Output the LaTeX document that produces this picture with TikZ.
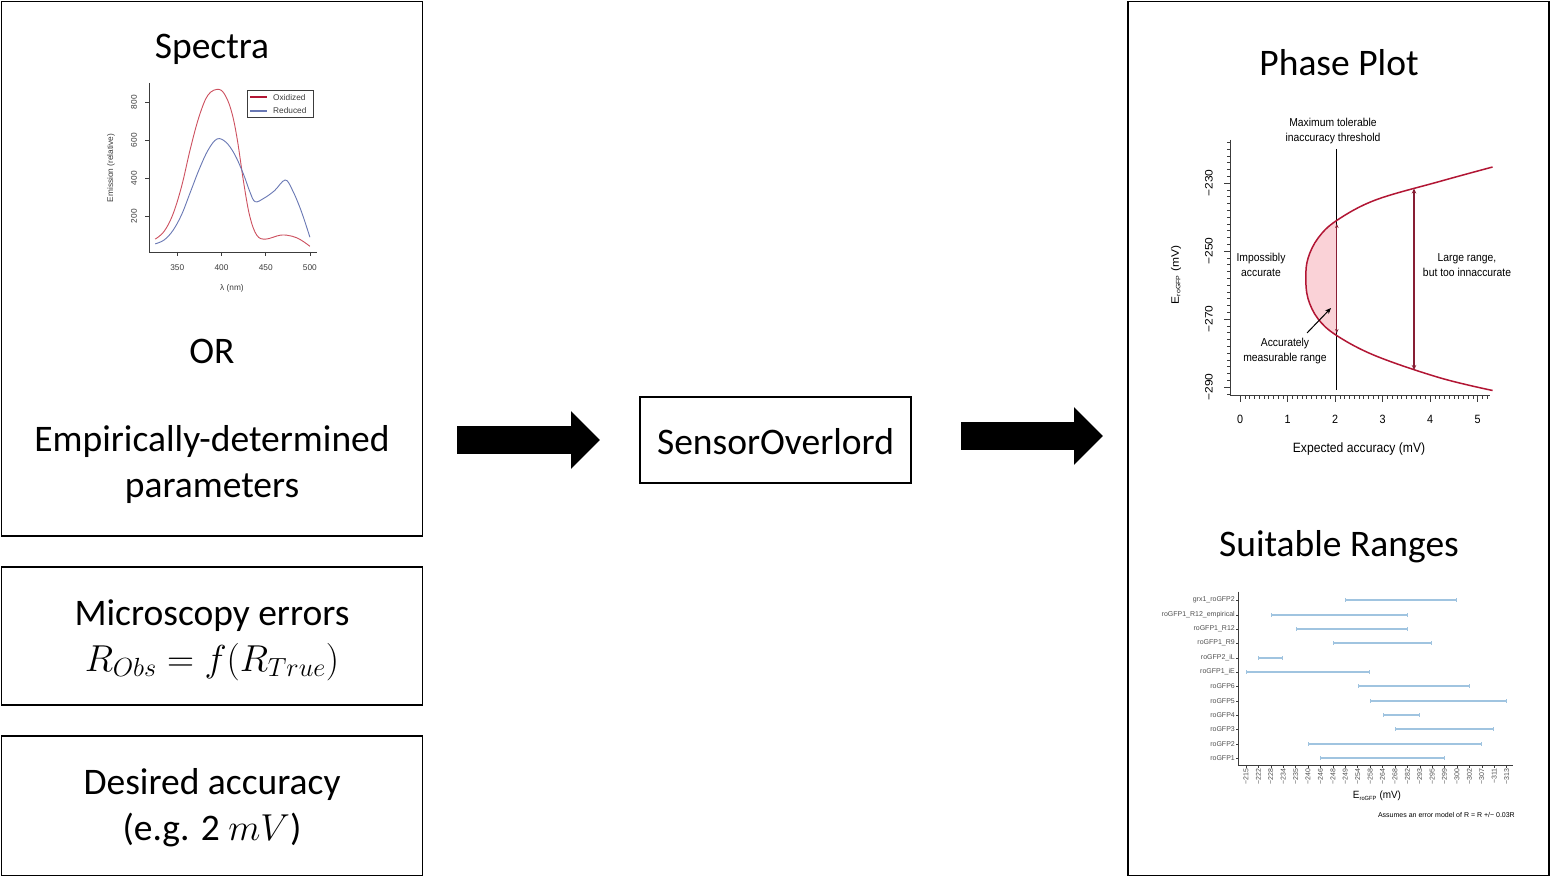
\RequirePackage{fix-cm}
\documentclass[tikz,border=0pt]{standalone}
\usepackage{fontspec}
\setmainfont{Carlito}
\newfontfamily\plotfont{Liberation Sans}
\usetikzlibrary{arrows.meta}
\definecolor{oxred}{RGB}{205,80,95}
\definecolor{redblue}{RGB}{105,120,180}
\definecolor{crim}{RGB}{178,22,52}
\definecolor{darr}{RGB}{135,30,52}
\definecolor{pinkfill}{RGB}{250,210,215}
\definecolor{barblue}{RGB}{160,196,224}
\definecolor{lblgray}{RGB}{80,80,80}
\definecolor{axgray}{RGB}{60,60,60}
\begin{document}
\begin{tikzpicture}[x=1pt,y=-1pt,
  frame/.style={draw, line width=1.8pt, inner sep=0pt},
  big/.style={font=\fontsize{37.5}{46}\selectfont, align=center, inner sep=0pt},
  blockarrow/.style={line width=28pt, -{Triangle[length=29pt,width=56pt]}},
  plm/.style={font=\plotfont\fontsize{12}{15}\selectfont, align=center, inner sep=0pt, xscale=0.9},
  ann/.style={font=\plotfont\fontsize{11.5}{15.5}\selectfont, align=center, inner sep=0pt, xscale=0.9},
  pls/.style={font=\plotfont\fontsize{8.3}{10}\selectfont, inner sep=0pt, text=axgray},
  plxs/.style={font=\plotfont\fontsize{7}{8}\selectfont, inner sep=0pt, text=lblgray},
  ax/.style={axgray, line width=0.6pt},
  bar/.style={barblue, line width=2pt, {Bar[width=3.5pt,line width=0.8pt]}-{Bar[width=3.5pt,line width=0.8pt]}},
]
\useasboundingbox (0,0) rectangle (1551,877);
\fill[white] (0,0) rectangle (1551,877);

% ---------- frames ----------
\node[frame, minimum width=421pt, minimum height=534.5pt] (inbox) at (212,268.75) {};
\node[frame, minimum width=421pt, minimum height=138pt] (errbox) at (212,636) {};
\node[frame, minimum width=421pt, minimum height=139.5pt] (accbox) at (212,805.75) {};
\node[frame, minimum width=271pt, minimum height=86pt] (so) at (775.5,440) {};
\node[frame, minimum width=421pt, minimum height=874pt] (outbox) at (1338.5,438.5) {};

% ---------- texts ----------
\node[big] (spectra) at (212,49) {Spectra};
\node[big] (or) at (212,351.5) {OR};
\node[big] (emp) at (212,464.5) {Empirically-determined\\parameters};
\node[big] (micro) at (212,640) {Microscopy errors\\$R_{Obs}=f(R_{True})$};
\node[big] (desired) at (212,808) {Desired accuracy\\(e.g. 2 $mV$)};
\node[big] (solabel) at ([yshift=-1.5pt]so.center) {SensorOverlord};
\node[big] (phase) at (1339,63) {Phase Plot};
\node[big] (suit) at (1339,547) {Suitable Ranges};

% ---------- block arrows ----------
\coordinate (a1s) at (457,440);
\coordinate (a1e) at (600,440);
\coordinate (a2s) at (961,436);
\coordinate (a2e) at (1103,436);
\draw[blockarrow] (a1s) -- (a1e);
\draw[blockarrow] (a2s) -- (a2e);

% ---------- spectra plot ----------
\draw[ax] (149,83) -- (149,252) -- (317,252);
\foreach \v/\py in {200/216.3,400/178.3,600/140.3,800/102.3}{
  \draw[ax] (149,\py) -- (145,\py);
  \node[pls, rotate=90] at (134,\py) {\v};
}
\foreach \l/\px in {350/177.3,400/221.5,450/265.7,500/309.9}{
  \draw[ax] (\px,252) -- (\px,256);
  \node[pls] at (\px,268) {\l};
}
\node[pls, rotate=90] at (111,168) {Emission (relative)};
\node[pls] at (232,288) {λ (nm)};
\begin{scope}[shift={(177.3,216.3)}, x=0.884pt, y=0.19pt]
  \draw[oxred, line width=0.9pt] plot[smooth, tension=0.6] coordinates {(-25,-120) (-15,-80) (-5,10) (5,160) (15,360) (25,530) (35,640) (47,668) (55,630) (62,540) (68,400) (75,180) (82,0) (90,-100) (100,-120) (117,-99) (130,-105) (140,-125) (150,-158)};
  \draw[redblue, line width=0.9pt] plot[smooth, tension=0.6] coordinates {(-25,-145) (-15,-125) (-5,-75) (5,10) (15,130) (25,250) (35,350) (45,407) (55,390) (65,325) (75,220) (82,130) (88,77) (98,95) (110,135) (122,191) (130,140) (140,30) (150,-110)};
\end{scope}
\draw[axgray, line width=0.5pt] (247,90) rectangle (313,117);
\draw[crim, line width=1.6pt] (250,97) -- (267,97);
\draw[redblue, line width=1.6pt] (250,111) -- (267,111);
\node[pls, anchor=west] at (273,97.5) {Oxidized};
\node[pls, anchor=west] at (273,111) {Reduced};

% ---------- phase plot ----------
\fill[pinkfill] plot[smooth, tension=0.6] coordinates {(1336.8,220.4) (1318.2,237.9) (1308.1,258) (1305.8,277.3) (1308,298.5) (1318,318.8) (1336.8,335.6)} -- cycle;
\draw[black, line width=0.7pt] (1336,149) -- (1336,390);
\draw[crim, line width=1.5pt] plot[smooth, tension=0.6] coordinates {(1492.6,167) (1439.5,181.5) (1375.5,200) (1336.8,220.4) (1318.2,237.9) (1308.1,258) (1305.8,277.3) (1308,298.5) (1318,318.8) (1336.8,335.6) (1375.5,355.8) (1439.5,377.7) (1492.6,390.5)};
\draw[darr, line width=1.1pt, {Stealth[length=4pt,width=3.5pt]}-{Stealth[length=4pt,width=3.5pt]}] (1336.8,224) -- (1336.8,333);
\draw[darr, line width=1.8pt, {Stealth[length=5pt,width=4.5pt]}-{Stealth[length=5pt,width=4.5pt]}] (1414,188.5) -- (1414,370);
\draw[black, line width=1pt, -{Stealth[length=6pt,width=5pt]}] (1307,333) -- (1331,308);
% axes
\draw[ax, line width=0.7pt] (1230.7,140) -- (1230.7,395.5) -- (1490,395.5);
\foreach \k in {0,...,37}{
  \draw[ax, line width=0.5pt] (1230.7,{142.2+6.8*\k}) -- ++(-3.5,0);
}
\foreach \e/\py in {-230/183,-250/251,-270/319,-290/387}{
  \draw[ax, line width=0.7pt] (1230.7,\py) -- ++(-7,0);
}
\foreach \k in {0,...,52}{
  \draw[ax, line width=0.5pt] ({1240+4.75*\k},395.5) -- ++(0,3.5);
}
\foreach \t in {0,...,5}{
  \draw[ax, line width=0.7pt] ({1240+47.5*\t},395.5) -- ++(0,7);
  \node[plm] at ({1240+47.5*\t},419) {\t};
}
\node[plm, rotate=90] at (1209,183) {−230};
\node[plm, rotate=90] at (1209,251) {−250};
\node[plm, rotate=90] at (1209,319) {−270};
\node[plm, rotate=90] at (1209,387) {−290};
\node[plm, rotate=90] at (1176,275) {E\textsubscript{\fontsize{7}{8}\selectfont roGFP} (mV)};
\node[plm, font=\plotfont\fontsize{13.5}{15}\selectfont] at (1359,449) {Expected accuracy (mV)};
\node[ann] at (1333,131) {Maximum tolerable\\inaccuracy threshold};
\node[ann] at (1261,265) {Impossibly\\accurate};
\node[ann] at (1467,265) {Large range,\\but too innaccurate};
\node[ann] at (1285,351) {Accurately\\measurable range};

% ---------- suitable ranges ----------
\draw[ax, line width=0.8pt] (1238.3,591.5) -- (1238.3,765) -- (1513,765);
\foreach \lab [count=\i from 0] in {−215,−222,−228,−234,−235,−240,−246,−248,−249,−254,−258,−264,−268,−282,−293,−295,−299,−300,−302,−307,−311,−313}{
  \draw[ax, line width=0.5pt] ({1246+12.41*\i},765) -- ++(0,2.5);
  \node[plxs, rotate=90, anchor=east] at ({1246+12.41*\i},768.5) {\lab};
}
\foreach \nm/\a/\b [count=\r from 0] in {grx1\_roGFP2/8/17, roGFP1\_R12\_empirical/2/13, roGFP1\_R12/4/13, roGFP1\_R9/7/15, roGFP2\_iL/1/3, roGFP1\_iE/0/10, roGFP6/9/18, roGFP5/10/21, roGFP4/11/14, roGFP3/12/20, roGFP2/5/19, roGFP1/6/16}{
  \draw[bar] ({1246+12.41*\a},{round(600.3+14.33*\r)}) -- ({1246+12.41*\b},{round(600.3+14.33*\r)});
  \draw[ax, line width=0.5pt] (1238.3,{round(600.3+14.33*\r)}) -- ++(-2.5,0);
  \node[plxs, anchor=east] at (1235,{round(600.3+14.33*\r)}) {\nm};
}
\node[plm, xscale=1.05, font=\plotfont\fontsize{10.5}{12}\selectfont] at (1377,796) {E\textsubscript{\fontsize{6}{7}\selectfont roGFP} (mV)};
\node[plxs, anchor=east, text=black] at (1515,815) {Assumes an error model of R = R +/− 0.03R};
\end{tikzpicture}
\end{document}
